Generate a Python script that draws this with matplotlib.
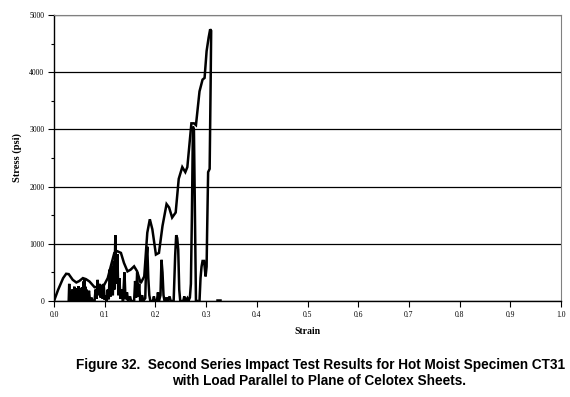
import matplotlib.pyplot as plt
from matplotlib.ticker import MultipleLocator

# main stress-strain trace (rising envelope, then unloading)
strain_main = [0.000, 0.008, 0.018, 0.024, 0.029, 0.037, 0.044, 0.050, 0.057, 0.063,
               0.070, 0.080, 0.090, 0.099, 0.106, 0.112, 0.119, 0.125, 0.132, 0.138,
               0.145, 0.151, 0.158, 0.164, 0.171, 0.178, 0.184, 0.189, 0.194, 0.201,
               0.207, 0.214, 0.222, 0.227, 0.233, 0.240, 0.246, 0.253, 0.259, 0.263,
               0.267, 0.271, 0.276, 0.280, 0.287, 0.293, 0.297, 0.301, 0.305, 0.308,
               0.310, 0.309, 0.307, 0.304, 0.302, 0.301, 0.299, 0.296, 0.293, 0.291,
               0.289, 0.287]
stress_main = [0, 194, 400, 476, 470, 370, 324, 350, 400, 382,
               341, 241, 253, 282, 400, 606, 841, 870, 841, 665,
               518, 547, 606, 518, 312, 429, 1194, 1429, 1253, 812,
               841, 1312, 1694, 1635, 1459, 1547, 2135, 2341, 2253, 2341,
               2724, 3106, 3106, 3076, 3665, 3870, 3900, 4370, 4606, 4750,
               4724, 3840, 2310, 2253, 1200, 600, 430, 700, 700, 600,
               400, 0]

# ringing trace near the baseline
strain_ring = [0.029, 0.030, 0.031, 0.032, 0.033, 0.034, 0.035, 0.036, 0.037, 0.038,
               0.039, 0.040, 0.041, 0.042, 0.043, 0.044, 0.045, 0.046, 0.047, 0.048,
               0.049, 0.050, 0.051, 0.052, 0.053, 0.054, 0.055, 0.056, 0.057, 0.058,
               0.059, 0.060, 0.061, 0.062, 0.063, 0.064, 0.065, 0.066, 0.067, 0.069,
               0.071, 0.074, 0.076, 0.080, 0.082, 0.084, 0.086, 0.088, 0.090, 0.092,
               0.094, 0.096, 0.098, 0.100, 0.102, 0.104, 0.106, 0.108, 0.110, 0.112,
               0.114, 0.116, 0.118, 0.119, 0.121, 0.123, 0.125, 0.127, 0.129, 0.131,
               0.134, 0.136, 0.139, 0.141, 0.144, 0.146, 0.150, 0.152, 0.158, 0.160,
               0.162, 0.164, 0.166, 0.168, 0.170, 0.174, 0.176, 0.180, 0.182, 0.184,
               0.186, 0.188, 0.190, 0.195, 0.197, 0.199, 0.203, 0.205, 0.207, 0.210,
               0.212, 0.214, 0.216, 0.218, 0.222, 0.224, 0.228, 0.230, 0.236, 0.239,
               0.241, 0.243, 0.245, 0.247, 0.249, 0.255, 0.257, 0.259, 0.263, 0.265,
               0.268, 0.270, 0.272, 0.274, 0.276, 0.278, 0.280, 0.283]
stress_ring = [0, 300, 0, 150, 20, 120, 0, 200, 10, 180,
               0, 250, 20, 200, 0, 220, 30, 180, 0, 260,
               20, 200, 0, 230, 10, 180, 0, 240, 30, 340,
               0, 380, 20, 250, 0, 200, 20, 150, 0, 180,
               0, 60, 0, 0, 200, 40, 370, 100, 300, 60,
               250, 40, 300, 20, 100, 0, 200, 30, 550, 80,
               600, 100, 700, 200, 1150, 300, 820, 100, 400, 40,
               200, 0, 500, 30, 150, 0, 80, 0, 0, 350,
               60, 500, 80, 300, 0, 100, 0, 50, 700, 950,
               400, 100, 0, 0, 80, 0, 0, 150, 0, 100,
               720, 500, 100, 0, 60, 0, 80, 0, 0, 800,
               1150, 1100, 900, 200, 0, 0, 80, 0, 50, 0,
               60, 300, 1500, 3050, 3000, 1500, 0, 0]

# small tail after failure
strain_tail = [0.322, 0.328]
stress_tail = [25, 25]

fig = plt.figure(figsize=(5.7, 3.97), dpi=100)
ax = fig.add_axes([54 / 570, 1 - 301 / 397, 507 / 570, 286 / 397])

for xs, ys in [(strain_main, stress_main), (strain_ring, stress_ring), (strain_tail, stress_tail)]:
    ax.plot(xs, ys, color="black", linewidth=1.8, solid_joinstyle="miter")

ax.set_xlim(0, 1.0)
ax.set_ylim(0, 5000)
ax.xaxis.set_major_locator(MultipleLocator(0.1))
ax.yaxis.set_major_locator(MultipleLocator(1000))
ax.yaxis.set_minor_locator(MultipleLocator(500))
ax.set_xticklabels([f"{v:.1f}" for v in ax.get_xticks()])

ax.grid(axis="y", which="major", color="black", linewidth=0.9)
ax.set_axisbelow(True)
ax.tick_params(axis="both", which="major", direction="out", length=4, width=0.8,
               labelsize=5.5, pad=3)
ax.tick_params(axis="y", which="minor", direction="out", length=2.5, width=0.8)
for lab in ax.get_xticklabels() + ax.get_yticklabels():
    lab.set_family("Liberation Serif")

ax.spines["top"].set_color("gray")
ax.spines["right"].set_color("gray")
ax.spines["left"].set_linewidth(1.0)
ax.spines["bottom"].set_linewidth(1.0)

ax.set_xlabel("Strain", family="Liberation Serif", fontweight="bold", fontsize=7, labelpad=6)
ax.set_ylabel("Stress (psi)", family="Liberation Serif", fontweight="bold", fontsize=7.5, labelpad=5)

fig.text(0.563, 1 - 365 / 397,
         "Figure 32.  Second Series Impact Test Results for Hot Moist Specimen CT31",
         ha="center", va="center", fontsize=9.8, fontweight="bold", family="Liberation Sans")
fig.text(0.56, 1 - 381 / 397,
         "with Load Parallel to Plane of Celotex Sheets.",
         ha="center", va="center", fontsize=9.8, fontweight="bold", family="Liberation Sans")

fig.savefig("out.png", dpi=100)
